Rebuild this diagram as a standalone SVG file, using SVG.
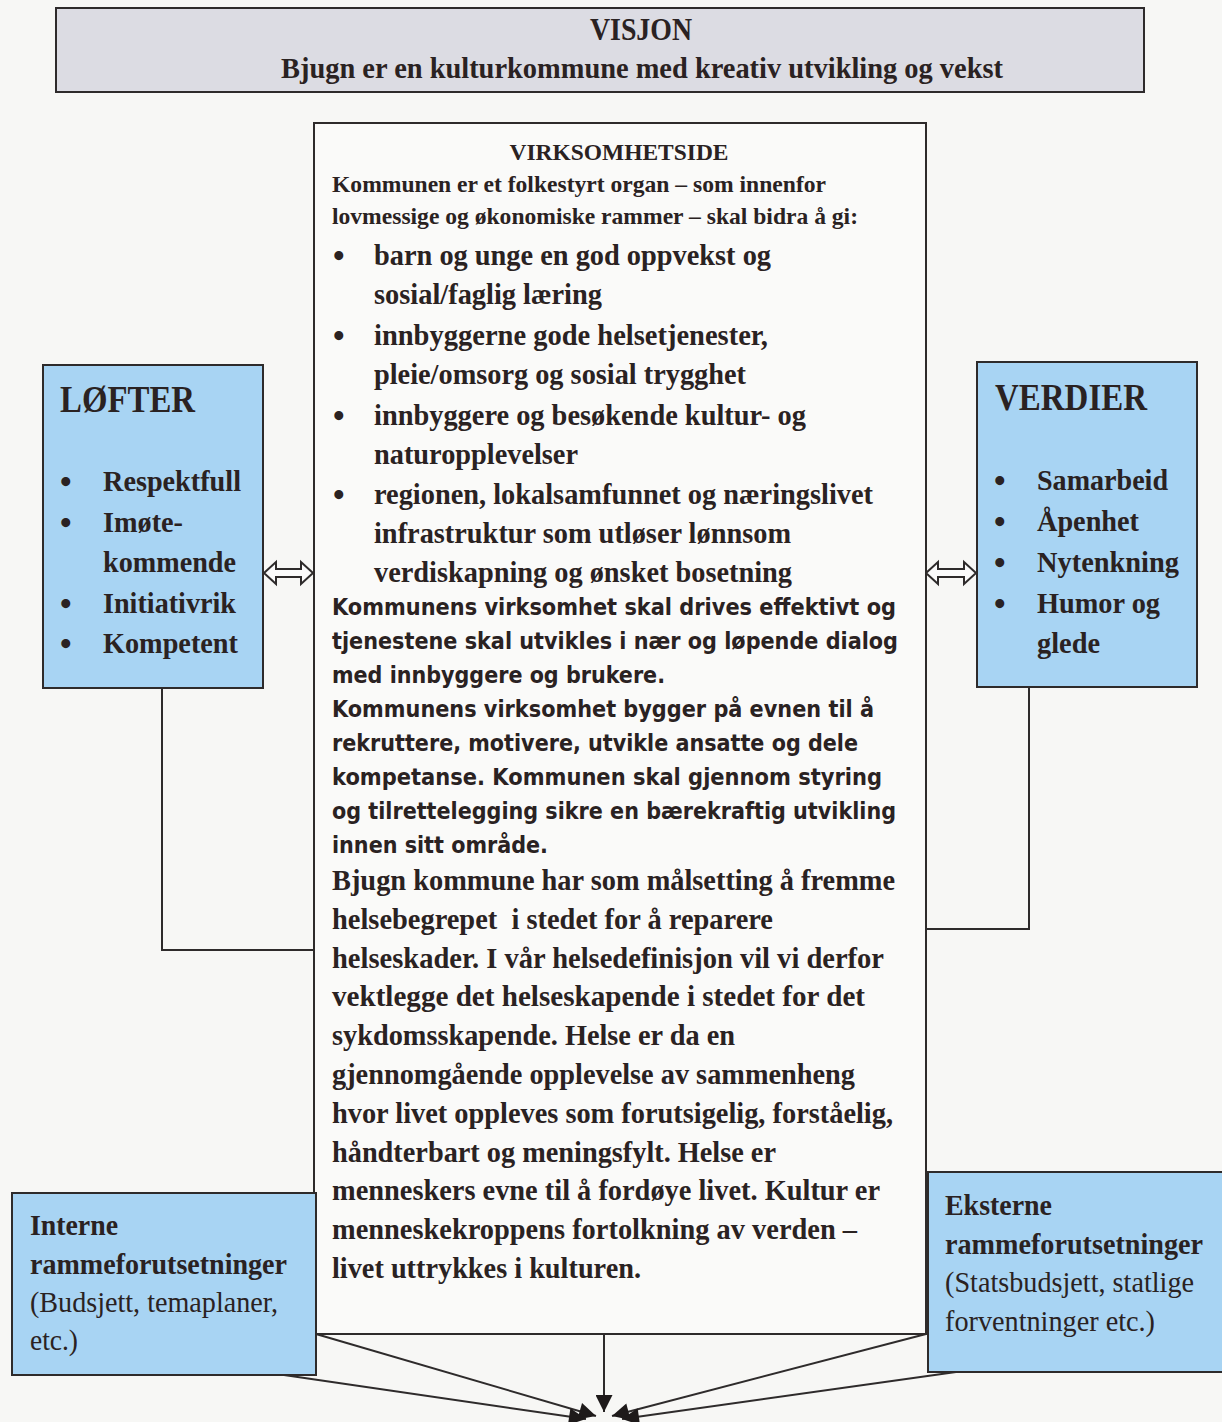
<svg xmlns="http://www.w3.org/2000/svg" width="1222" height="1422" viewBox="0 0 1222 1422">
<defs>
<style>
.box{stroke:#2e2b2b;stroke-width:2}
.blue{fill:#a8d4f3}
.serif{font-family:"Liberation Serif","Times New Roman",serif;font-weight:bold;fill:#2a2222}
.reg{font-family:"Liberation Serif","Times New Roman",serif;font-weight:normal;fill:#2a2222}
.sans{font-family:"DejaVu Sans","Liberation Sans",sans-serif;font-weight:bold;fill:#2a2222;font-size:23px}
.bul{font-family:"Liberation Serif","Times New Roman",serif;font-weight:bold;fill:#2a2222;font-size:33px}
.conn{fill:none;stroke:#2e2b2b;stroke-width:2}
.dbl{fill:#fbfbfb;stroke:#2e2b2b;stroke-width:2;stroke-linejoin:miter}
</style>
<marker id="ah" viewBox="0 0 10 10" refX="10" refY="5" markerWidth="22" markerHeight="17" markerUnits="userSpaceOnUse" orient="auto">
<path d="M0,0 L10,5 L0,10 z" fill="#1e1a1a"/>
</marker>
</defs>
<rect width="1222" height="1422" fill="#f7f7f5"/>

<g id="visjon">
<rect class="box" x="56" y="8" width="1088" height="84" fill="#dcdce3"/>
<text class="serif" x="641" y="40" font-size="31" text-anchor="middle" textLength="102" lengthAdjust="spacingAndGlyphs">VISJON</text>
<text class="serif" x="642" y="78" font-size="30" text-anchor="middle" textLength="722" lengthAdjust="spacingAndGlyphs">Bjugn er en kulturkommune med kreativ utvikling og vekst</text>
</g>

<g id="connectors">
<polyline class="conn" points="162,688 162,950 314,950"/>
<polyline class="conn" points="1029,687 1029,929 926,929"/>
<polygon class="dbl" points="264,573 276,562 276,569 301,569 301,562 313,573 301,584 301,577 276,577 276,584"/>
<polygon class="dbl" points="926,573 938,562 938,569 964,569 964,562 976,573 964,584 964,577 938,577 938,584"/>
<line class="conn" x1="604" y1="1334" x2="604" y2="1412" marker-end="url(#ah)"/>
<line class="conn" x1="316" y1="1334" x2="596" y2="1416" marker-end="url(#ah)"/>
<line class="conn" x1="926" y1="1334" x2="612" y2="1416" marker-end="url(#ah)"/>
<line class="conn" x1="284" y1="1375" x2="586" y2="1419" marker-end="url(#ah)"/>
<line class="conn" x1="956" y1="1372" x2="622" y2="1419" marker-end="url(#ah)"/>
</g>

<g id="virksomhet">
<rect class="box" x="314" y="123" width="612" height="1211" fill="#fafaf9"/>
<text class="serif" x="619" y="160" font-size="24" text-anchor="middle" textLength="219" lengthAdjust="spacingAndGlyphs">VIRKSOMHETSIDE</text>
<text class="serif" x="332" y="192" font-size="24" textLength="494" lengthAdjust="spacingAndGlyphs">Kommunen er et folkestyrt organ – som innenfor</text>
<text class="serif" x="332" y="224" font-size="24" textLength="526" lengthAdjust="spacingAndGlyphs">lovmessige og økonomiske rammer – skal bidra å gi:</text>
<g class="bul">
<text x="333" y="267">•</text>
<text x="333" y="347">•</text>
<text x="333" y="427">•</text>
<text x="333" y="506">•</text>
</g>
<g class="serif" font-size="30">
<text x="374" y="265" textLength="397" lengthAdjust="spacingAndGlyphs">barn og unge en god oppvekst og</text>
<text x="374" y="304" textLength="228" lengthAdjust="spacingAndGlyphs">sosial/faglig læring</text>
<text x="374" y="345" textLength="394" lengthAdjust="spacingAndGlyphs">innbyggerne gode helsetjenester,</text>
<text x="374" y="384" textLength="372" lengthAdjust="spacingAndGlyphs">pleie/omsorg og sosial trygghet</text>
<text x="374" y="425" textLength="432" lengthAdjust="spacingAndGlyphs">innbyggere og besøkende kultur- og</text>
<text x="374" y="464" textLength="204" lengthAdjust="spacingAndGlyphs">naturopplevelser</text>
<text x="374" y="504" textLength="499" lengthAdjust="spacingAndGlyphs">regionen, lokalsamfunnet og næringslivet</text>
<text x="374" y="543" textLength="417" lengthAdjust="spacingAndGlyphs">infrastruktur som utløser lønnsom</text>
<text x="374" y="582" textLength="418" lengthAdjust="spacingAndGlyphs">verdiskapning og ønsket bosetning</text>
</g>
<g class="sans">
<text x="332" y="615" textLength="564" lengthAdjust="spacingAndGlyphs">Kommunens virksomhet skal drives effektivt og</text>
<text x="332" y="649" textLength="566" lengthAdjust="spacingAndGlyphs">tjenestene skal utvikles i nær og løpende dialog</text>
<text x="332" y="683" textLength="333" lengthAdjust="spacingAndGlyphs">med innbyggere og brukere.</text>
<text x="332" y="717" textLength="542" lengthAdjust="spacingAndGlyphs">Kommunens virksomhet bygger på evnen til å</text>
<text x="332" y="751" textLength="526" lengthAdjust="spacingAndGlyphs">rekruttere, motivere, utvikle ansatte og dele</text>
<text x="332" y="785" textLength="550" lengthAdjust="spacingAndGlyphs">kompetanse. Kommunen skal gjennom styring</text>
<text x="332" y="819" textLength="564" lengthAdjust="spacingAndGlyphs">og tilrettelegging sikre en bærekraftig utvikling</text>
<text x="332" y="853" textLength="216" lengthAdjust="spacingAndGlyphs">innen sitt område.</text>
</g>
<g class="serif" font-size="30">
<text x="332" y="890" textLength="563" lengthAdjust="spacingAndGlyphs">Bjugn kommune har som målsetting å fremme</text>
<text x="332" y="929" textLength="441" lengthAdjust="spacingAndGlyphs" xml:space="preserve">helsebegrepet  i stedet for å reparere</text>
<text x="332" y="968" textLength="552" lengthAdjust="spacingAndGlyphs">helseskader. I vår helsedefinisjon vil vi derfor</text>
<text x="332" y="1006" textLength="533" lengthAdjust="spacingAndGlyphs">vektlegge det helseskapende i stedet for det</text>
<text x="332" y="1045" textLength="403" lengthAdjust="spacingAndGlyphs">sykdomsskapende. Helse er da en</text>
<text x="332" y="1084" textLength="523" lengthAdjust="spacingAndGlyphs">gjennomgående opplevelse av sammenheng</text>
<text x="332" y="1123" textLength="561" lengthAdjust="spacingAndGlyphs">hvor livet oppleves som forutsigelig, forståelig,</text>
<text x="332" y="1162" textLength="444" lengthAdjust="spacingAndGlyphs">håndterbart og meningsfylt. Helse er</text>
<text x="332" y="1200" textLength="548" lengthAdjust="spacingAndGlyphs">menneskers evne til å fordøye livet. Kultur er</text>
<text x="332" y="1239" textLength="525" lengthAdjust="spacingAndGlyphs">menneskekroppens fortolkning av verden –</text>
<text x="332" y="1278" textLength="309" lengthAdjust="spacingAndGlyphs">livet uttrykkes i kulturen.</text>
</g>
</g>

<g id="lofter">
<rect class="box blue" x="43" y="365" width="220" height="323"/>
<text class="serif" x="60" y="412" font-size="38" textLength="135" lengthAdjust="spacingAndGlyphs">LØFTER</text>
<g class="bul">
<text x="60" y="493">•</text>
<text x="60" y="534">•</text>
<text x="60" y="615">•</text>
<text x="60" y="655">•</text>
</g>
<g class="serif" font-size="30">
<text x="103" y="491" textLength="138" lengthAdjust="spacingAndGlyphs">Respektfull</text>
<text x="103" y="532" textLength="80" lengthAdjust="spacingAndGlyphs">Imøte-</text>
<text x="103" y="572" textLength="133" lengthAdjust="spacingAndGlyphs">kommende</text>
<text x="103" y="613" textLength="133" lengthAdjust="spacingAndGlyphs">Initiativrik</text>
<text x="103" y="653" textLength="135" lengthAdjust="spacingAndGlyphs">Kompetent</text>
</g>
</g>

<g id="verdier">
<rect class="box blue" x="977" y="362" width="220" height="325"/>
<text class="serif" x="995" y="410" font-size="38" textLength="152" lengthAdjust="spacingAndGlyphs">VERDIER</text>
<g class="bul">
<text x="994" y="492">•</text>
<text x="994" y="533">•</text>
<text x="994" y="574">•</text>
<text x="994" y="615">•</text>
</g>
<g class="serif" font-size="30">
<text x="1037" y="490" textLength="131" lengthAdjust="spacingAndGlyphs">Samarbeid</text>
<text x="1037" y="531" textLength="102" lengthAdjust="spacingAndGlyphs">Åpenhet</text>
<text x="1037" y="572" textLength="142" lengthAdjust="spacingAndGlyphs">Nytenkning</text>
<text x="1037" y="613" textLength="123" lengthAdjust="spacingAndGlyphs">Humor og</text>
<text x="1037" y="653" textLength="63" lengthAdjust="spacingAndGlyphs">glede</text>
</g>
</g>

<g id="interne">
<rect class="box blue" x="12" y="1193" width="304" height="182"/>
<text class="serif" x="30" y="1235" font-size="30" textLength="88" lengthAdjust="spacingAndGlyphs">Interne</text>
<text class="serif" x="30" y="1274" font-size="30" textLength="257" lengthAdjust="spacingAndGlyphs">rammeforutsetninger</text>
<text class="reg" x="30" y="1312" font-size="30" textLength="248" lengthAdjust="spacingAndGlyphs">(Budsjett, temaplaner,</text>
<text class="reg" x="30" y="1350" font-size="30" textLength="48" lengthAdjust="spacingAndGlyphs">etc.)</text>
</g>

<g id="eksterne">
<rect class="box blue" x="928" y="1172" width="300" height="200"/>
<text class="serif" x="945" y="1215" font-size="30" textLength="107" lengthAdjust="spacingAndGlyphs">Eksterne</text>
<text class="serif" x="945" y="1254" font-size="30" textLength="258" lengthAdjust="spacingAndGlyphs">rammeforutsetninger</text>
<text class="reg" x="945" y="1292" font-size="30" textLength="249" lengthAdjust="spacingAndGlyphs">(Statsbudsjett, statlige</text>
<text class="reg" x="945" y="1331" font-size="30" textLength="210" lengthAdjust="spacingAndGlyphs">forventninger etc.)</text>
</g>
</svg>
